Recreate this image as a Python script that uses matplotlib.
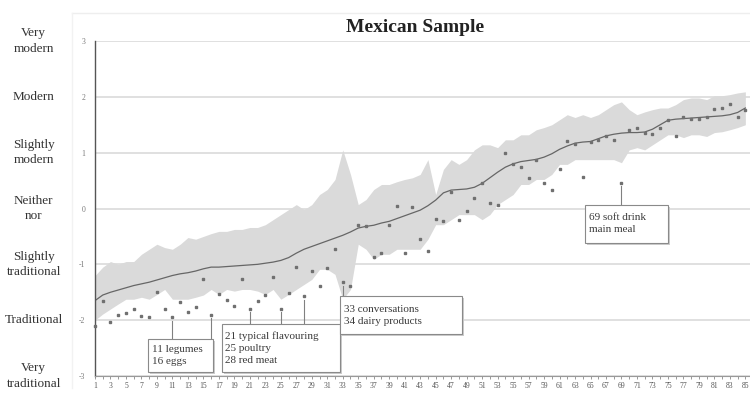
import numpy as np
import matplotlib.pyplot as plt
from matplotlib.patches import Rectangle
from matplotlib.ticker import MultipleLocator

plt.rc('font', family='Liberation Serif')

items = np.arange(1, 86)

# mean over all samples (items sorted by it)
mean_all = [-1.65, -1.55, -1.50, -1.46, -1.42, -1.38, -1.35, -1.32, -1.28, -1.24,
            -1.20, -1.17, -1.15, -1.12, -1.08, -1.05, -1.05, -1.04, -1.03, -1.02,
            -1.01, -1.00, -0.98, -0.96, -0.93, -0.88, -0.80, -0.73, -0.68, -0.63,
            -0.58, -0.53, -0.48, -0.42, -0.35, -0.32, -0.30, -0.26, -0.23, -0.18,
            -0.13, -0.08, -0.03, 0.05, 0.15, 0.28, 0.33, 0.34, 0.35, 0.38,
            0.45, 0.55, 0.65, 0.74, 0.80, 0.84, 0.86, 0.88, 0.92, 0.98,
            1.06, 1.12, 1.17, 1.19, 1.20, 1.25, 1.30, 1.33, 1.35, 1.36,
            1.36, 1.37, 1.42, 1.50, 1.58, 1.60, 1.61, 1.62, 1.63, 1.64,
            1.65, 1.66, 1.68, 1.72, 1.80]

# range over the other samples
band_hi = [-1.20, -1.05, -0.95, -1.00, -0.95, -0.95, -0.82, -0.73, -0.64, -0.70,
           -0.73, -0.64, -0.52, -0.55, -0.50, -0.45, -0.41, -0.41, -0.375, -0.375,
           -0.34, -0.34, -0.29, -0.20, -0.11, -0.02, 0.07, -0.02, 0.07, 0.25,
           0.34, 0.52, 1.05, 0.61, 0.07, 0.16, 0.34, 0.43, 0.43, 0.48,
           0.52, 0.55, 0.61, 0.875, 0.25, 0.70, 0.875, 0.79, 0.875, 1.05,
           1.14, 1.14, 1.09, 1.23, 1.23, 1.32, 1.32, 1.41, 1.45, 1.50,
           1.59, 1.68, 1.63, 1.68, 1.63, 1.68, 1.77, 1.86, 1.91, 1.77,
           1.68, 1.73, 1.77, 1.80, 1.80, 1.86, 1.95, 1.98, 1.98, 1.95,
           2.02, 2.02, 2.04, 2.07, 2.09]
band_lo = [-2.00, -1.89, -1.80, -1.71, -1.625, -1.625, -1.59, -1.625, -1.54, -1.45,
           -1.625, -1.625, -1.625, -1.59, -1.55, -1.45, -1.54, -1.45, -1.48, -1.45,
           -1.45, -1.48, -1.54, -1.45, -1.625, -1.54, -1.45, -1.36, -1.27, -1.09,
           -1.09, -1.18, -1.625, -1.45, -0.64, -0.73, -0.91, -0.82, -0.82, -0.73,
           -0.73, -0.73, -0.73, -0.55, -0.29, -0.29, -0.20, -0.11, -0.11, -0.11,
           -0.20, -0.11, 0.07, 0.16, 0.25, 0.43, 0.43, 0.52, 0.52, 0.61,
           0.79, 0.79, 0.875, 0.875, 0.875, 0.875, 0.875, 0.875, 0.82, 1.05,
           1.09, 1.05, 1.14, 1.23, 1.32, 1.32, 1.27, 1.32, 1.32, 1.29,
           1.36, 1.375, 1.41, 1.45, 1.50]

# Mexican sample
mexico = [-2.10, -1.65, -2.04, -1.90, -1.88, -1.80, -1.93, -1.95, -1.50, -1.80,
          -1.95, -1.68, -1.86, -1.77, -1.27, -1.91, -1.54, -1.64, -1.75, -1.27,
          -1.80, -1.66, -1.55, -1.23, -1.80, -1.52, -1.04, -1.57, -1.12, -1.38,
          -1.07, -0.73, -1.32, -1.39, -0.30, -0.32, -0.86, -0.79, -0.30, 0.05,
          -0.79, 0.02, -0.55, -0.77, -0.18, -0.23, 0.30, -0.20, -0.05, 0.18,
          0.45, 0.09, 0.07, 1.00, 0.80, 0.75, 0.55, 0.875, 0.45, 0.34,
          0.71, 1.21, 1.16, 0.57, 1.20, 1.23, 1.30, 1.23, 0.46, 1.41,
          1.45, 1.36, 1.34, 1.45, 1.59, 1.30, 1.63, 1.61, 1.61, 1.64,
          1.79, 1.80, 1.87, 1.64, 1.77]

levels = [3, 2, 1, 0, -1, -2, -3]
level_names = ['Very\nmodern', 'Modern', 'Slightly\nmodern', 'Neither\nnor',
               'Slightly\ntraditional', 'Traditional', 'Very\ntraditional']

# labelled items and their text boxes (x0, x1, y0, y1)
notes = [
    ([11, 16], '11 legumes\n16 eggs', (7.85, 16.25, -2.93, -2.34)),
    ([21, 25, 28], '21 typical flavouring\n25 poultry\n28 red meat', (17.4, 32.65, -2.93, -2.07)),
    ([33], '33 conversations\n34 dairy products', (32.65, 48.4, -2.25, -1.57)),
    ([69], '69 soft drink\nmain meal', (64.3, 75.0, -0.61, 0.07)),
]

fig = plt.figure(figsize=(7.5, 3.96), dpi=100)
ax = fig.add_axes([95 / 750, 20 / 396, 655 / 750, 335 / 396])

# faint outer frame of the chart area
fig.add_artist(plt.Line2D([72 / 750, 1], [383 / 396, 383 / 396], color='#eeeeee', lw=1))
fig.add_artist(plt.Line2D([72 / 750, 72 / 750], [383 / 396, 0.02], color='#f2f2f2', lw=1))

for lv in levels:
    ax.axhline(lv, color='#e0e0e0', lw=1.4, zorder=0)

ax.fill_between(items, band_lo, band_hi, color='#dadada', lw=0, zorder=1)
ax.plot(items, mean_all, color='#666666', lw=0.9, zorder=2)
ax.plot(items, mexico, ls='none', marker='s', ms=1.9, color='#707070',
        zorder=3, clip_on=False)

for nums, txt, (x0, x1, y0, y1) in notes:
    for n in nums:
        ax.plot([n, n], [mexico[n - 1] - 0.06, y1], color='#808080', lw=0.8, zorder=3)
    ax.add_patch(Rectangle((x0 + 0.3, y0 - 0.04), x1 - x0, y1 - y0,
                           facecolor='#cccccc', edgecolor='none', zorder=4))
    ax.add_patch(Rectangle((x0, y0), x1 - x0, y1 - y0, facecolor='white',
                           edgecolor='#8a8a8a', lw=0.8, zorder=5))
    ax.text(x0 + 0.45, (y0 + y1) / 2, txt, fontsize=8, va='center', ha='left',
            linespacing=1.4, color='#3a3a3a', zorder=6)

ax.set_xlim(1, 85.6)
ax.set_ylim(-3, 3)
ax.xaxis.set_major_locator(MultipleLocator(2))
ax.xaxis.set_minor_locator(MultipleLocator(1))
ax.set_xticks(items[::2])
ax.set_xticklabels([str(i) for i in items[::2]])
ax.set_yticks(levels)
ax.set_yticklabels([str(lv) for lv in levels])
ax.tick_params(axis='x', which='both', length=2, width=0.6, color='#888888',
               labelsize=5.5, labelcolor='#555555', pad=2)
ax.tick_params(axis='y', length=0, labelsize=5.5, labelcolor='#777777', pad=7)

ax.spines['top'].set_visible(False)
ax.spines['right'].set_visible(False)
ax.spines['left'].set_color('#555555')
ax.spines['bottom'].set_color('#999999')
ax.spines['left'].set_linewidth(1.0)
ax.spines['bottom'].set_linewidth(0.8)

for lv, name in zip(levels, level_names):
    ax.text(-6.9, lv, name, fontsize=9.5, ha='center', va='center',
            linespacing=1.35, color='#333333', clip_on=False)

fig.text(415 / 750, 1 - 27 / 396, 'Mexican Sample', fontsize=14, fontweight='bold',
         ha='center', va='center', color='#222222')

plt.savefig('out.png', dpi=100)
